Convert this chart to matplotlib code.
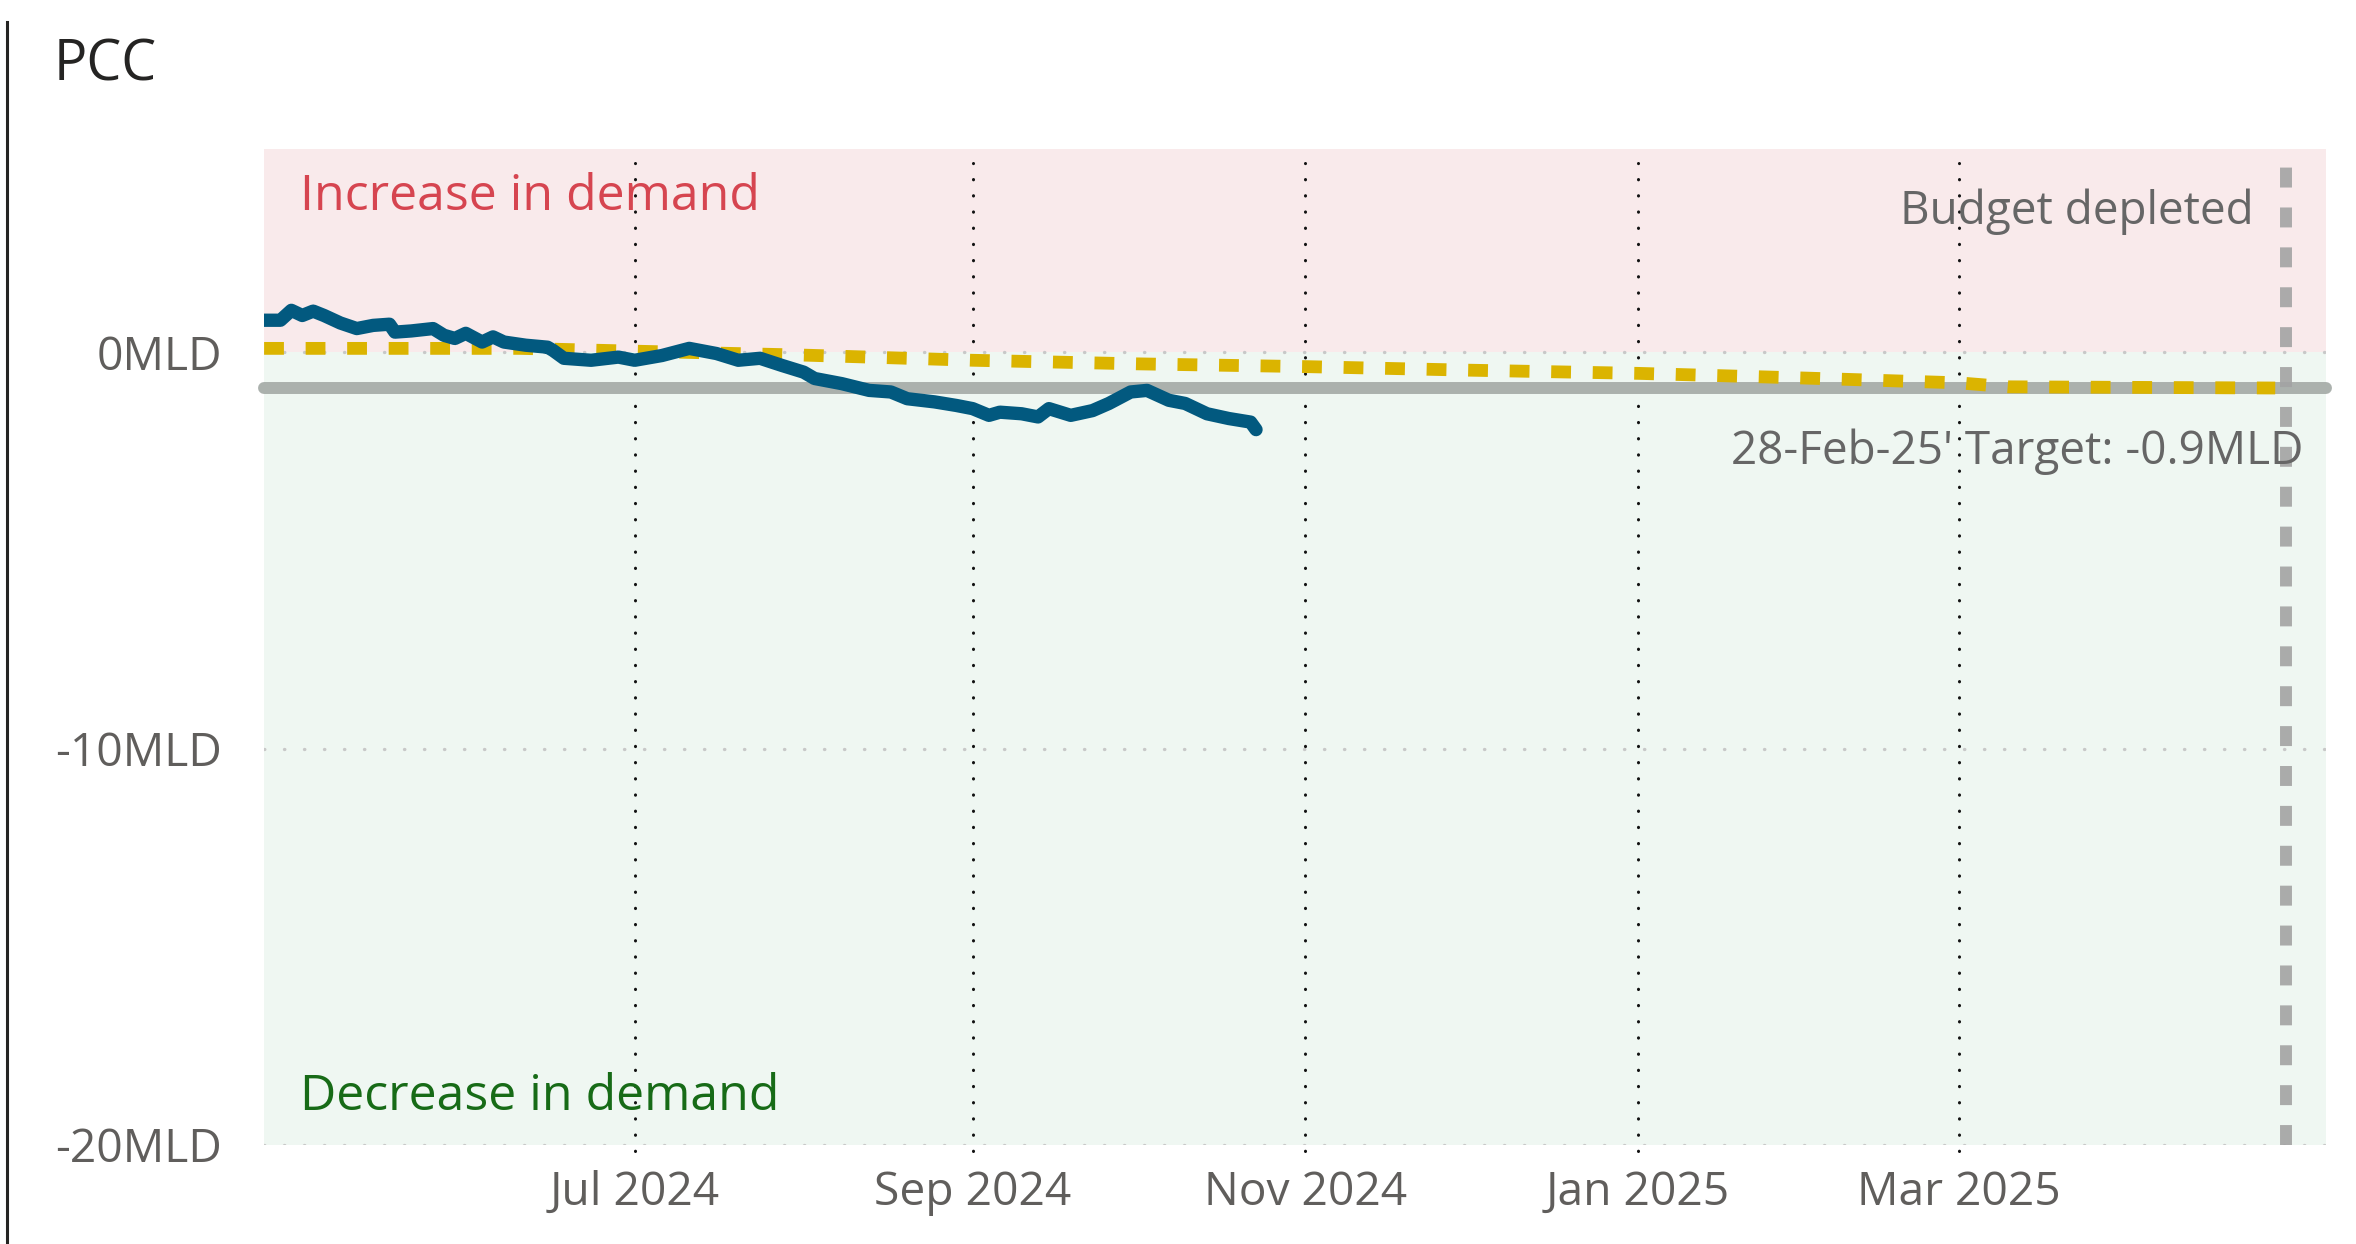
import pandas as pd
import matplotlib
matplotlib.use("Agg")
import matplotlib.pyplot as plt
from matplotlib.lines import Line2D

plt.rcParams['font.family'] = ['Open Sans', 'DejaVu Sans']

# actual demand change (MLD)
pcc_dates = ['2024-04-24', '2024-04-27', '2024-04-29', '2024-05-01', '2024-05-03', '2024-05-05',
             '2024-05-08', '2024-05-11', '2024-05-14', '2024-05-17', '2024-05-18', '2024-05-21',
             '2024-05-25', '2024-05-27', '2024-05-29', '2024-05-31', '2024-06-03', '2024-06-05',
             '2024-06-07', '2024-06-11', '2024-06-15', '2024-06-16', '2024-06-18', '2024-06-23',
             '2024-06-28', '2024-07-01', '2024-07-06', '2024-07-11', '2024-07-16', '2024-07-20',
             '2024-07-24', '2024-07-28', '2024-08-01', '2024-08-03', '2024-08-08', '2024-08-13',
             '2024-08-17', '2024-08-20', '2024-08-25', '2024-08-29', '2024-09-01', '2024-09-04',
             '2024-09-06', '2024-09-10', '2024-09-13', '2024-09-15', '2024-09-19', '2024-09-23',
             '2024-09-26', '2024-09-30', '2024-10-03', '2024-10-07', '2024-10-10', '2024-10-14',
             '2024-10-18', '2024-10-22', '2024-10-23']
pcc_values = [0.81, 0.81, 1.06, 0.93, 1.04, 0.93,
              0.74, 0.60, 0.68, 0.71, 0.51, 0.54,
              0.60, 0.43, 0.35, 0.48, 0.26, 0.39,
              0.26, 0.18, 0.13, 0.05, -0.15, -0.20,
              -0.12, -0.20, -0.08, 0.10, -0.03, -0.20,
              -0.15, -0.33, -0.50, -0.66, -0.79, -0.96,
              -1.00, -1.17, -1.25, -1.34, -1.42, -1.59,
              -1.51, -1.55, -1.63, -1.42, -1.59, -1.47,
              -1.29, -1.00, -0.96, -1.21, -1.29, -1.55,
              -1.67, -1.76, -1.95]

# target trajectory
target_dates = ['2024-04-24', '2024-06-10', '2024-07-01', '2024-08-01', '2024-09-01', '2024-10-01',
                '2024-11-01', '2024-12-01', '2025-01-01', '2025-02-01', '2025-03-01', '2025-03-10',
                '2025-04-28']
target_values = [0.10, 0.10, 0.03, -0.07, -0.20, -0.29,
                 -0.36, -0.45, -0.53, -0.65, -0.77, -0.87,
                 -0.90]

target_level = -0.9
budget_depleted = '2025-04-30'

tick_dates = ['2024-07-01', '2024-09-01', '2024-11-01', '2025-01-01', '2025-03-01']
tick_labels = ['Jul 2024', 'Sep 2024', 'Nov 2024', 'Jan 2025', 'Mar 2025']
y_ticks = [0, -10, -20]
y_labels = ['0MLD', '-10MLD', '-20MLD']

pcc_dates = pd.to_datetime(pcc_dates)
target_dates = pd.to_datetime(target_dates)
tick_dates = pd.to_datetime(tick_dates)

fig = plt.figure(figsize=(11.78, 6.22), dpi=200)
ax = fig.add_axes([0.1121, 0.0796, 0.8752, 0.8006])
ax.set_facecolor('none')

y_top = 5.13
ax.set_xlim(pd.Timestamp('2024-04-24'), pd.Timestamp('2025-05-07 08:00'))
ax.set_ylim(-20, y_top)

# shaded zones
ax.axhspan(0, y_top, color='#f9eaeb', zorder=0, lw=0)
ax.axhspan(-20, 0, color='#eff7f2', zorder=0, lw=0)

# grid
for y in y_ticks:
    ax.axhline(y, color='#c8c8c8', lw=1.2, linestyle=(0, (0.1, 5.9)),
               dash_capstyle='round', zorder=1)
for d in tick_dates:
    ax.axvline(d, ymin=-0.006, ymax=0.986, color='#111111', lw=1.1,
               linestyle=(0, (0.1, 5.2)), dash_capstyle='round', zorder=1, clip_on=False)

# target level and budget line
ax.axhline(target_level, color='#abb1ad', lw=4.3, solid_capstyle='round', zorder=2, clip_on=False)
ax.axvline(pd.Timestamp(budget_depleted), color='#a3a3a3', lw=4.3, alpha=0.9,
           linestyle=(0, (1.67, 1.67)), dash_capstyle='butt', zorder=2)

ax.plot(target_dates, target_values, color='#dbb400', lw=4.6,
        linestyle=(0, (1.55, 1.7)), dash_capstyle='butt', zorder=3)
ax.plot(pcc_dates, pcc_values, color='#02597f', lw=4.8,
        solid_capstyle='round', solid_joinstyle='round', zorder=4)

# axes styling
for s in ax.spines.values():
    s.set_visible(False)
ax.set_xticks(tick_dates)
ax.set_xticklabels(tick_labels)
ax.set_yticks(y_ticks)
ax.set_yticklabels(y_labels)
ax.tick_params(axis='both', length=0, labelsize=16.6, labelcolor='#605e5c')
ax.tick_params(axis='y', pad=15)
ax.tick_params(axis='x', pad=9)

# annotations
ax.text(0.0175, 0.952, 'Increase in demand', transform=ax.transAxes, color='#d64550',
        fontsize=18, va='center', ha='left')
ax.text(0.0175, 0.048, 'Decrease in demand', transform=ax.transAxes, color='#176b17',
        fontsize=18, va='center', ha='left')
ax.text(0.965, 0.937, 'Budget depleted', transform=ax.transAxes, color='#666666',
        fontsize=16.5, va='center', ha='right')
ax.text(0.989, 0.696, "28-Feb-25' Target: -0.9MLD", transform=ax.transAxes, color='#666666',
        fontsize=16.5, va='center', ha='right')

fig.text(0.0229, 0.947, 'PCC', color='#252423', fontsize=20, va='center', ha='left')
fig.add_artist(Line2D([0.003, 0.003], [0.0, 0.982], color='#252423', lw=1.1,
                      transform=fig.transFigure))

fig.savefig('out.png', dpi=200)
